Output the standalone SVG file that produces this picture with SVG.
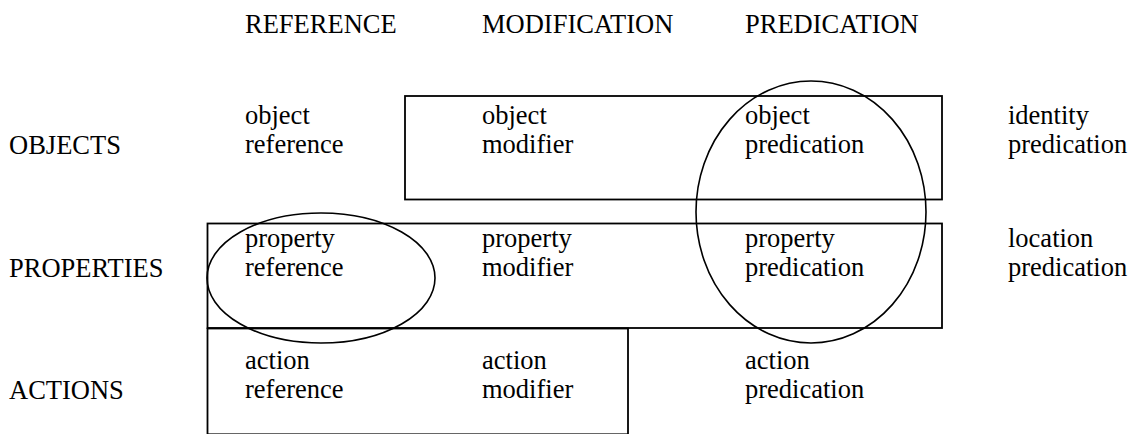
<svg xmlns="http://www.w3.org/2000/svg" width="1133" height="434" viewBox="0 0 1133 434">
<style>
text{font-family:"Liberation Serif","Times New Roman","DejaVu Serif",serif;font-size:26.5px;fill:#000}
.box{fill:none;stroke:#000;stroke-width:1.8}
.ring{fill:none;stroke:#000;stroke-width:1.6}
</style>
<rect width="1133" height="434" fill="#fff"/>
<g id="headers">
<text x="245" y="32.5">REFERENCE</text>
<text x="482" y="32.5">MODIFICATION</text>
<text x="745" y="32.5">PREDICATION</text>
</g>
<g id="rows">
<text x="9" y="154">OBJECTS</text>
<text x="9" y="277">PROPERTIES</text>
<text x="9" y="399">ACTIONS</text>
</g>
<g id="connectors">
<rect id="box-objects" class="box" x="405" y="96" width="537" height="103.5"/>
<rect id="box-properties" class="box" x="207.5" y="223.5" width="734.5" height="104.5"/>
<rect id="box-actions" class="box" x="207.5" y="328.5" width="420.5" height="105.8"/>
<ellipse id="ring-ref" class="ring" cx="321" cy="278" rx="114" ry="65"/>
<ellipse id="ring-pred" class="ring" cx="811" cy="212" rx="115" ry="131"/>
</g>
<g id="n-obj-ref"><text x="245" y="124">object</text><text x="245" y="153">reference</text></g>
<g id="n-obj-mod"><text x="482" y="124">object</text><text x="482" y="153">modifier</text></g>
<g id="n-obj-pred"><text x="745" y="124">object</text><text x="745" y="153">predication</text></g>
<g id="n-identity"><text x="1008" y="124">identity</text><text x="1008" y="153">predication</text></g>
<g id="n-prop-ref"><text x="245" y="247">property</text><text x="245" y="276">reference</text></g>
<g id="n-prop-mod"><text x="482" y="247">property</text><text x="482" y="276">modifier</text></g>
<g id="n-prop-pred"><text x="745" y="247">property</text><text x="745" y="276">predication</text></g>
<g id="n-location"><text x="1008" y="247">location</text><text x="1008" y="276">predication</text></g>
<g id="n-act-ref"><text x="245" y="369">action</text><text x="245" y="398">reference</text></g>
<g id="n-act-mod"><text x="482" y="369">action</text><text x="482" y="398">modifier</text></g>
<g id="n-act-pred"><text x="745" y="369">action</text><text x="745" y="398">predication</text></g>
</svg>
